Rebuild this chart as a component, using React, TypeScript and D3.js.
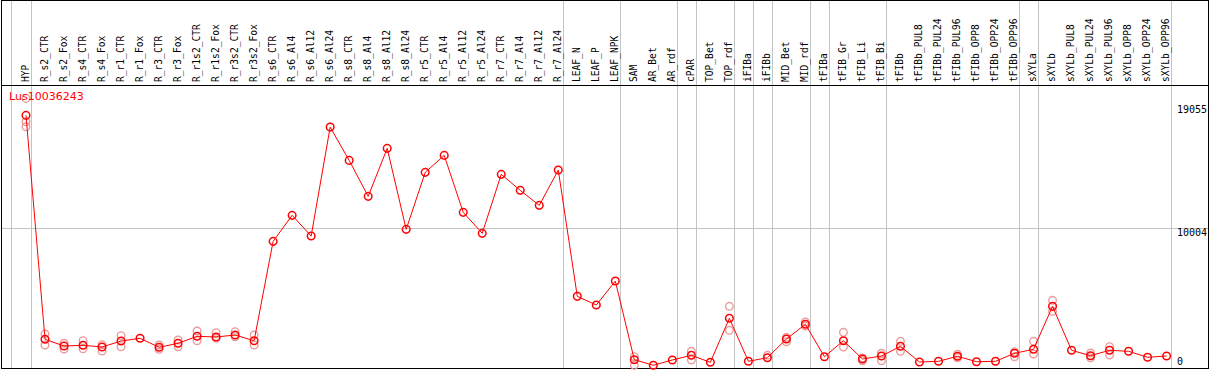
import React from "react";
import * as d3 from "d3";

const geneName = "Lus10036243";

const categories = [
  "HYP", "R_s2_CTR", "R_s2_Fox", "R_s4_CTR", "R_s4_Fox", "R_r1_CTR", "R_r1_Fox",
  "R_r3_CTR", "R_r3_Fox", "R_r1s2_CTR", "R_r1s2_Fox", "R_r3s2_CTR", "R_r3s2_Fox",
  "R_s6_CTR", "R_s6_Al4", "R_s6_Al12", "R_s6_Al24", "R_s8_CTR", "R_s8_Al4", "R_s8_Al12",
  "R_s8_Al24", "R_r5_CTR", "R_r5_Al4", "R_r5_Al12", "R_r5_Al24", "R_r7_CTR", "R_r7_Al4",
  "R_r7_Al12", "R_r7_Al24", "LEAF_N", "LEAF_P", "LEAF_NPK", "SAM", "AR_Bet", "AR_rdf",
  "cPAR", "TOP_Bet", "TOP_rdf", "iFIBa", "iFIBb", "MID_Bet", "MID_rdf", "tFIBa",
  "tFIB_Gr", "tFIB_Li", "tFIB_Bi", "tFIBb", "tFIBb_PUL8", "tFIBb_PUL24", "tFIBb_PUL96",
  "tFIBb_OPP8", "tFIBb_OPP24", "tFIBb_OPP96", "sXYLa", "sXYLb", "sXYLb_PUL8",
  "sXYLb_PUL24", "sXYLb_PUL96", "sXYLb_OPP8", "sXYLb_OPP24", "sXYLb_OPP96",
];

const meanValues = [
  18096, 2055, 1575, 1626, 1504, 1933, 2127, 1482, 1769, 2270, 2220, 2363, 1955,
  9073, 10935, 9453, 17258, 14873, 12295, 15733, 9932, 14014, 15231, 11150, 9646,
  13871, 12725, 11651, 14179, 5134, 4511, 6230, 594, 193, 573, 909, 408, 3559, 480,
  738, 2077, 3129, 809, 1955, 644, 859, 1554, 430, 480, 838, 451, 480, 1053, 1339,
  4418, 1268, 881, 1268, 1196, 766, 859,
];

const replicateValues: number[][] = [
  [19313, 17638, 17280], [2435, 1647], [1769, 1361], [1955, 1382], [1669, 1217],
  [2313, 1525], [], [1647, 1339], [2005, 1525], [2650, 1955], [2528, 2127],
  [2599, 2241], [2363, 1647],
  [], [], [], [], [], [], [], [], [], [], [], [], [], [], [], [], [], [], [],
  [809, 193], [], [], [1196, 573], [], [4418, 2700], [], [909], [2198, 1883],
  [3294, 3008], [], [2556, 1504], [716, 523], [1053, 523], [1912, 1196], [], [],
  [981, 738], [], [], [1167, 809], [1912, 1003], [4848, 4060], [], [1074, 738],
  [1525, 931], [], [], [],
];

const yTicks = [0, 10004, 19055];
const yGridTicks = [10004];

const groupEnds = [
  "HYP", "R_r7_Al24", "LEAF_NPK", "AR_rdf", "cPAR", "TOP_rdf", "iFIBa", "iFIBb",
  "MID_rdf", "tFIBa", "tFIB_Bi", "tFIBb_OPP96", "sXYLa", "sXYLb_OPP96",
];

const W = 1209;
const H = 370;
const headerBottom = 85.5;
const plotBottom = 368;

export default function App() {
  const x = d3.scalePoint<string>().domain(categories).range([26, 1166.6]);
  const step = x.step();
  const y = d3.scaleLinear().domain([0, 19055]).range([plotBottom, 102]);

  const lineGen = d3
    .line<number>()
    .x((_, i) => x(categories[i]) as number)
    .y((d) => y(d));

  const sepXs = [
    (x(categories[0]) as number) - step + 4.5,
    ...groupEnds.map((c) => (x(c) as number) + 4.5),
  ].map((v) => Math.round(v) + 0.5);

  const mono = "'DejaVu Sans Mono', 'Liberation Mono', monospace";
  const red = "#ff0000";
  const faint = "#eb9c9c";

  return (
    <svg
      width={W}
      height={H}
      style={{ position: "absolute", left: 0, top: 0, display: "block", background: "#fff" }}
    >
      <rect x={0} y={0} width={W} height={H} fill="#fff" />
      {/* horizontal grid */}
      {yGridTicks.map((t) => (
        <line
          key={"g" + t}
          x1={1.5}
          x2={1208.5}
          y1={Math.round(y(t)) + 0.5}
          y2={Math.round(y(t)) + 0.5}
          stroke="#c4c4c4"
          strokeWidth={1}
        />
      ))}
      {/* vertical separators */}
      {sepXs.map((sx, i) => (
        <line key={"s" + i} x1={sx} x2={sx} y1={0} y2={plotBottom + 0.5} stroke="#c4c4c4" strokeWidth={1} />
      ))}
      {/* borders */}
      <line x1={1.5} x2={1.5} y1={0} y2={369} stroke="#000" />
      <line x1={1208.5} x2={1208.5} y1={0} y2={369} stroke="#000" />
      <line x1={1} x2={1209} y1={0.5} y2={0.5} stroke="#000" />
      <line x1={1} x2={1209} y1={headerBottom} y2={headerBottom} stroke="#000" />
      <line x1={1} x2={1209} y1={368.5} y2={368.5} stroke="#000" />

      {/* header labels */}
      {categories.map((c) => {
        const cx = (x(c) as number) + 2.5;
        return (
          <text
            key={"l" + c}
            transform={`translate(${cx},82) rotate(-90)`}
            fontFamily={mono}
            fontSize={9.6}
            fill="#000"
          >
            {c}
          </text>
        );
      })}

      {/* y tick labels */}
      {yTicks.map((t, i) => {
        const yy = y(t);
        const dy = t === 0 ? -3 : i === yTicks.length - 1 ? 11 : 7.5;
        return (
          <text key={"t" + t} x={1177} y={yy + dy} fontFamily={mono} fontSize={10} fill="#000">
            {t}
          </text>
        );
      })}

      {/* replicate circles */}
      {replicateValues.map((reps, i) =>
        reps.map((v, j) => (
          <circle
            key={`r${i}-${j}`}
            cx={x(categories[i]) as number}
            cy={y(v)}
            r={3.8}
            fill="none"
            stroke={faint}
            strokeWidth={1.4}
          />
        ))
      )}

      {/* mean line */}
      <path d={lineGen(meanValues) || ""} fill="none" stroke={red} strokeWidth={1} />

      {/* mean circles */}
      {meanValues.map((v, i) => (
        <circle
          key={"m" + i}
          cx={x(categories[i]) as number}
          cy={y(v)}
          r={3.8}
          fill="none"
          stroke={red}
          strokeWidth={1.5}
        />
      ))}

      <text x={9} y={100} fontFamily="'DejaVu Sans', sans-serif" fontSize={11} fill={red}>
        {geneName}
      </text>
    </svg>
  );
}
